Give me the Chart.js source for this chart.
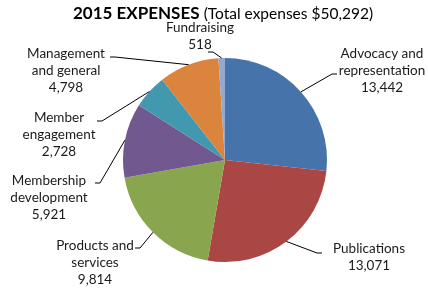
<!DOCTYPE html>
<html>
<head>
<meta charset="utf-8">
<script src="https://cdn.jsdelivr.net/npm/chart.js@4"></script>
<style>
  body { margin: 0; background: #fff; }
  #wrap { width: 428px; height: 292px; }
</style>
</head>
<body>
<div id="wrap"><canvas id="myChart" width="428" height="292"></canvas></div>
<script>
// data
const categories = [
  ['Advocacy and', 'representation'],
  ['Publications'],
  ['Products and', 'services'],
  ['Membership', 'development'],
  ['Member', 'engagement'],
  ['Management', 'and general'],
  ['Fundraising']
];
const expenses = [13442, 13071, 9814, 5921, 2728, 4798, 518];
const colors = ['#4674AA', '#AA4643', '#89A54E', '#71588F', '#4198AF', '#DB843D', '#93A9CF'];

// where each label sits: text centre x, first line y, elbow of the leader, side of the tick
const labelPos = [
  {x: 382, y: 54, ex: 332, ey: 74, dir: 1},
  {x: 369, y: 249, ex: 317, ey: 253, dir: 1},
  {x: 95, y: 246, ex: 140, ey: 248, dir: -1},
  {x: 49, y: 181, ex: 100, ey: 183, dir: -1},
  {x: 59, y: 118, ex: 102, ey: 121, dir: -1},
  {x: 66, y: 54, ex: 115, ey: 57, dir: -1},
  {x: 200, y: 28, ex: 213, ey: 52, dir: -1}
];

const ctx = document.getElementById('myChart');
const FONT = 'Lato, "Open Sans", sans-serif';

const labelsPlugin = {
  id: 'outLabels',
  afterDraw(chart) {
    const c = chart.ctx;
    const arcs = chart.getDatasetMeta(0).data;
    c.save();
    // title, bold part + plain part
    c.fillStyle = '#000';
    c.textBaseline = 'alphabetic';
    c.textAlign = 'left';
    const t1 = '2015 EXPENSES ';
    const t2 = '(Total expenses $50,292)';
    c.font = 'bold 17px ' + FONT;
    const w1 = c.measureText(t1).width;
    c.font = '15.5px ' + FONT;
    const w2 = c.measureText(t2).width;
    let x0 = 223 - (w1 + w2) / 2;
    c.font = 'bold 17px ' + FONT;
    c.fillText(t1, x0, 19);
    c.font = '15.5px ' + FONT;
    c.fillText(t2, x0 + w1, 19);

    // slice labels
    c.font = '13.5px ' + FONT;
    c.textAlign = 'center';
    c.textBaseline = 'middle';
    c.fillStyle = '#1a1a1a';
    c.strokeStyle = '#000';
    c.lineWidth = 1;
    arcs.forEach((arc, i) => {
      const p = labelPos[i];
      const lines = categories[i].concat([expenses[i].toLocaleString('en-US')]);
      lines.forEach((ln, k) => c.fillText(ln, p.x, p.y + k * 17));
      const mid = (arc.startAngle + arc.endAngle) / 2;
      const r = arc.outerRadius;
      const px = arc.x + Math.cos(mid) * r;
      const py = arc.y + Math.sin(mid) * r;
      c.beginPath();
      c.moveTo(px, py);
      c.lineTo(p.ex, p.ey);
      c.lineTo(p.ex + p.dir * 5, p.ey);
      c.stroke();
    });
    c.restore();
  }
};

new Chart(ctx, {
  type: 'pie',
  data: {
    labels: categories.map(l => l.join(' ')),
    datasets: [{
      data: expenses,
      backgroundColor: colors,
      borderWidth: 0
    }]
  },
  options: {
    responsive: false,
    animation: false,
    layout: {
      padding: {left: 123, right: 101, top: 58, bottom: 30}
    },
    plugins: {
      legend: {display: false},
      tooltip: {enabled: false}
    }
  },
  plugins: [labelsPlugin]
});
</script>
</body>
</html>
